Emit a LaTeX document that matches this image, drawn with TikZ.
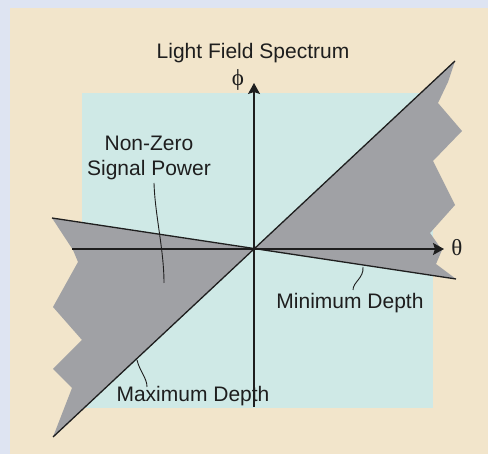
\documentclass[tikz,border=0pt]{standalone}
\usepackage{fontspec}
\setmainfont{Liberation Sans}
\newfontfamily\greekfont{Liberation Serif}
\usetikzlibrary{arrows.meta}
\definecolor{outerbg}{RGB}{222,228,242}
\definecolor{beigebg}{RGB}{242,229,203}
\definecolor{cyanbg}{RGB}{207,233,230}
\definecolor{grayreg}{RGB}{160,161,165}
\definecolor{ink}{RGB}{30,30,30}
\begin{document}
\begin{tikzpicture}[x=1pt,y=-1pt,
  axisline/.style={draw=ink,line width=1.1pt,-{Stealth[length=11pt,width=12pt,inset=2pt]}},
  depthline/.style={draw=ink,line width=1.3pt},
  leader/.style={draw=ink,line width=0.9pt},
  lbl/.style={inner sep=0pt,text=ink,font=\fontsize{21}{25}\selectfont},
  greek/.style={inner sep=0pt,text=ink,font=\greekfont\fontsize{23}{26}\selectfont}]
\useasboundingbox (0,0) rectangle (488,454);
\fill[outerbg] (0,0) rectangle (488,454);
\fill[beigebg] (10,8) rectangle (488,454);
\fill[cyanbg] (82,93) rectangle (433,408);
\coordinate (O) at (254,249);
\coordinate (maxA) at (53,437);
\coordinate (maxB) at (455,61);
\coordinate (minA) at (52,218);
\coordinate (minB) at (456,279);
\fill[grayreg] (O) -- (maxB) -- (448,82) -- (438,103) -- (462,131) -- (433,161)
  -- (455,205) -- (430,233) -- (442,250) -- (436,264) -- (minB) -- cycle;
\fill[grayreg] (O) -- (minA) -- (73,250) -- (78,262) -- (53,307) -- (82,340)
  -- (53,369) -- (72,388) -- (maxA) -- cycle;
\coordinate (yb) at (254,407);
\coordinate (yt) at (254,83);
\coordinate (xl) at (72,249);
\coordinate (xr) at (444,249);
\draw[axisline] (yb) -- (yt);
\draw[axisline] (xl) -- (xr);
\draw[depthline] (maxA) -- (maxB);
\draw[depthline] (minA) -- (minB);
\node[lbl] (title) at (253,53) {Light Field Spectrum};
\node[lbl,align=center] (nz) at (149,158) {Non-Zero\\Signal Power};
\node[lbl] (mind) at (350,303) {Minimum Depth};
\node[lbl] (maxd) at (193,396) {Maximum Depth};
\node[greek] (phi) at (238,80) {ϕ};
\node[greek] (theta) at (457,248) {θ};
\coordinate (nzS) at (154,183);
\coordinate (nzE) at (164,283);
\coordinate (minS) at (363,267);
\coordinate (minE) at (353,290);
\coordinate (maxS) at (137,360);
\coordinate (maxE) at (147,387);
\draw[leader] (nzS) .. controls (155,215) and (164,250) .. (nzE);
\draw[leader] (minS) .. controls (364,278) and (353,282) .. (minE);
\draw[leader] (maxS) .. controls (140,372) and (147,378) .. (maxE);
\end{tikzpicture}
\end{document}
